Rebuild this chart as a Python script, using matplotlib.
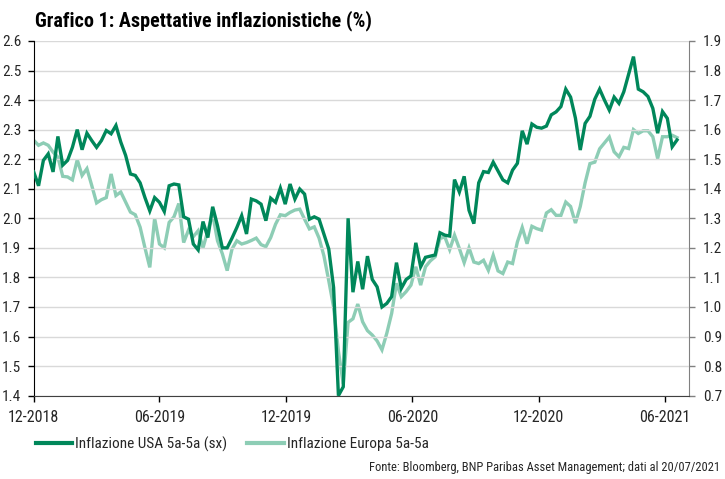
import matplotlib
matplotlib.use('Agg')
import matplotlib.pyplot as plt
from matplotlib.lines import Line2D
import pandas as pd

# serie settimanali (venerdi), dal 28/12/2018 al 16/07/2021
start_date = '2018-12-28'
n_weeks = 134

usa_5y5y = [
    2.157, 2.11, 2.196, 2.218, 2.157, 2.277, 2.18, 2.196, 2.24, 2.30,
    2.232, 2.288, 2.263, 2.24, 2.263, 2.297, 2.286, 2.314, 2.258, 2.213,
    2.15, 2.145, 2.12, 2.07, 2.025, 2.07, 2.054, 2.023, 2.11, 2.116,
    2.113, 2.005, 1.997, 1.913, 1.893, 1.989, 1.935, 2.039, 1.975, 1.90,
    1.90, 1.933, 1.969, 2.009, 1.947, 2.065, 2.059, 2.048, 1.992, 2.068,
    2.054, 2.102, 2.048, 2.116, 2.065, 2.099, 2.082, 1.997, 2.005, 1.997,
    1.947, 1.896, 1.766, 1.40, 1.43, 2.00, 1.75, 1.854, 1.76, 1.872,
    1.793, 1.768, 1.70, 1.712, 1.735, 1.85, 1.763, 1.793, 1.805, 1.917,
    1.836, 1.868, 1.872, 1.876, 1.951, 1.943, 1.94, 2.131, 2.089, 2.142,
    2.027, 1.982, 2.12, 2.158, 2.155, 2.19, 2.16, 2.13, 2.12, 2.163,
    2.186, 2.296, 2.251, 2.319, 2.308, 2.305, 2.312, 2.35, 2.36, 2.378,
    2.437, 2.41, 2.339, 2.231, 2.321, 2.345, 2.403, 2.437, 2.40, 2.366,
    2.41, 2.389, 2.428, 2.488, 2.547, 2.437, 2.428, 2.412, 2.372, 2.288,
    2.361, 2.338, 2.242, 2.265,
]

euro_5y5y = [
    1.564, 1.547, 1.555, 1.547, 1.524, 1.507, 1.442, 1.44, 1.43, 1.498,
    1.445, 1.468, 1.411, 1.352, 1.363, 1.37, 1.45, 1.377, 1.389, 1.355,
    1.321, 1.312, 1.27, 1.20, 1.134, 1.30, 1.213, 1.20, 1.286, 1.305,
    1.35, 1.218, 1.26, 1.238, 1.258, 1.20, 1.258, 1.314, 1.224, 1.18,
    1.123, 1.196, 1.224, 1.213, 1.218, 1.225, 1.233, 1.211, 1.204, 1.235,
    1.28, 1.312, 1.309, 1.32, 1.328, 1.331, 1.297, 1.264, 1.271, 1.233,
    1.173, 1.089, 1.00, 0.85, 0.74, 0.948, 0.96, 1.01, 0.95, 0.92,
    0.905, 0.885, 0.855, 0.911, 0.978, 1.08, 1.035, 1.052, 1.074, 1.136,
    1.074, 1.136, 1.156, 1.17, 1.232, 1.237, 1.194, 1.243, 1.198, 1.15,
    1.20, 1.152, 1.147, 1.158, 1.124, 1.175, 1.122, 1.113, 1.152, 1.147,
    1.22, 1.269, 1.214, 1.273, 1.265, 1.26, 1.318, 1.329, 1.31, 1.31,
    1.355, 1.34, 1.284, 1.34, 1.42, 1.485, 1.49, 1.535, 1.555, 1.575,
    1.525, 1.508, 1.54, 1.536, 1.60, 1.587, 1.596, 1.596, 1.576, 1.502,
    1.576, 1.576, 1.581, 1.573,
]

tick_dates = ['2018-12-28', '2019-06-28', '2019-12-28', '2020-06-28', '2020-12-28', '2021-06-28']
tick_labels = ['12-2018', '06-2019', '12-2019', '06-2020', '12-2020', '06-2021']
left_ticks = [1.4, 1.5, 1.6, 1.7, 1.8, 1.9, 2.0, 2.1, 2.2, 2.3, 2.4, 2.5, 2.6]
right_ticks = [0.7, 0.8, 0.9, 1.0, 1.1, 1.2, 1.3, 1.4, 1.5, 1.6, 1.7, 1.8, 1.9]

dates = pd.date_range(start=start_date, periods=n_weeks, freq='7D')

DARK = '#00875A'
LIGHT = '#8DCDB5'
plt.rcParams['font.family'] = ['Roboto Condensed', 'Liberation Sans', 'DejaVu Sans']

fig = plt.figure(figsize=(7.25, 4.79), dpi=100)
ax = fig.add_axes([0.0465, 0.174, 0.9035, 0.7405])
ax2 = ax.twinx()

ax.plot(dates, usa_5y5y, color=DARK, lw=2.4, zorder=3, solid_joinstyle='miter')
ax2.plot(dates, euro_5y5y, color=LIGHT, lw=2.4, zorder=2, solid_joinstyle='miter')
ax.set_zorder(ax2.get_zorder() + 1)
ax.patch.set_visible(False)

ax.set_ylim(1.4, 2.6)
ax2.set_ylim(0.7, 1.9)
ax.set_yticks(left_ticks)
ax.set_yticklabels([f'{v:.1f}' for v in left_ticks])
ax2.set_yticks(right_ticks)
ax2.set_yticklabels([f'{v:.1f}' for v in right_ticks])

t0 = pd.Timestamp(start_date)
ax.set_xlim(t0, t0 + pd.Timedelta(days=948))
ax.set_xticks(pd.to_datetime(tick_dates))
ax.set_xticklabels(tick_labels)

ax.grid(axis='y', color='#D9D9D9', lw=1.0)
ax.set_axisbelow(True)
for a in (ax, ax2):
    a.spines['top'].set_visible(False)
ax.spines['left'].set_color('black')
ax.spines['bottom'].set_color('#404040')
ax.spines['right'].set_visible(False)
ax2.spines['left'].set_visible(False)
ax2.spines['bottom'].set_visible(False)
ax2.spines['right'].set_color('#808080')

ax.tick_params(axis='y', length=4, width=1, pad=5, labelsize=11, labelcolor='#262626')
ax.tick_params(axis='x', length=4, width=1, pad=6, labelsize=11.5, labelcolor='#262626')
ax2.tick_params(axis='y', length=4, width=1, color='#808080', pad=6, labelsize=11, labelcolor='#262626')

fig.text(0.048, 0.957, 'Grafico 1: Aspettative inflazionistiche (%)', fontsize=14.5,
         fontweight='bold', ha='left', va='center', color='black')

handles = [Line2D([], [], color=DARK, lw=3), Line2D([], [], color=LIGHT, lw=3)]
fig.legend(handles, ['Inflazione USA 5a-5a (sx)', 'Inflazione Europa 5a-5a'],
           loc='center left', bbox_to_anchor=(0.03, 0.073), ncol=2, frameon=False,
           prop={'size': 11}, handlelength=2.4, handletextpad=0.2, columnspacing=1.3,
           labelcolor='#262626')

fig.text(0.993, 0.025, 'Fonte: Bloomberg, BNP Paribas Asset Management; dati al 20/07/2021',
         fontsize=9, ha='right', va='center', color='#262626')

fig.savefig('out.png', dpi=100)
